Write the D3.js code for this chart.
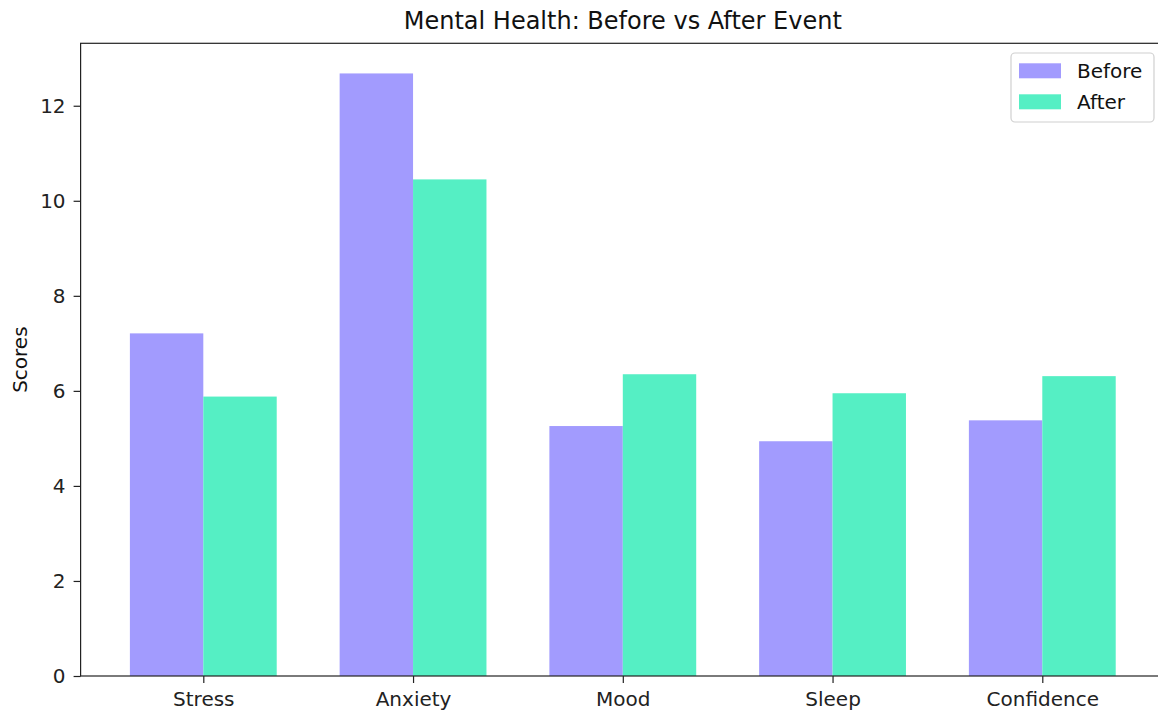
<!DOCTYPE html>
<html>
<head>
<meta charset="utf-8">
<script src="https://cdn.jsdelivr.net/npm/d3@7"></script>
<style>
  html, body { margin: 0; padding: 0; background: #fff; }
  svg { display: block; font-family: "DejaVu Sans", sans-serif; }
</style>
</head>
<body>
<svg id="chart" width="1158" height="711"></svg>
<script>
const categories = ["Stress", "Anxiety", "Mood", "Sleep", "Confidence"];
const seriesNames = ["Before", "After"];
const beforeValues = [7.21, 12.68, 5.26, 4.94, 5.38];
const afterValues = [5.88, 10.45, 6.35, 5.95, 6.31];
const yTicks = [0, 2, 4, 6, 8, 10, 12];
const colors = ["#a29bfe", "#55efc4"];
const title = "Mental Health: Before vs After Event";
const yLabel = "Scores";

(function () {
const svg = d3.select("#chart");
const pLeft = 80.6, pRight = 1165, pTop = 43.3, pBottom = 676;
const barW = 0.35;
const fs = 20;

const x = d3.scaleLinear().domain([-0.585, 4.585]).range([pLeft, pRight]);
const ymax = d3.max(beforeValues.concat(afterValues)) * 1.05;
const y = d3.scaleLinear().domain([0, ymax]).range([pBottom, pTop]);

const series = [beforeValues, afterValues];
series.forEach((vals, si) => {
  svg.append("g").selectAll("rect").data(vals).enter().append("rect")
    .attr("x", (d, i) => x(i + (si === 0 ? -barW : 0)))
    .attr("width", x(barW) - x(0))
    .attr("y", d => y(d))
    .attr("height", d => y(0) - y(d))
    .attr("fill", colors[si]);
});

const xAxis = d3.axisBottom(x).tickValues(d3.range(categories.length))
  .tickFormat(i => categories[i]).tickSizeOuter(0).tickSize(7).tickPadding(5);
const gx = svg.append("g").attr("transform", `translate(0,${pBottom})`).call(xAxis);
const yAxis = d3.axisLeft(y).tickValues(yTicks).tickSizeOuter(0).tickSize(7).tickPadding(8);
const gy = svg.append("g").attr("transform", `translate(${pLeft},0)`).call(yAxis);
[gx, gy].forEach(g => {
  g.selectAll("text").attr("font-family", "DejaVu Sans").attr("font-size", fs).attr("fill", "#222");
  g.selectAll("line").attr("stroke", "#222").attr("stroke-width", 1.2);
  g.select(".domain").remove();
});
gx.selectAll("text").attr("dy", "0.9em");

svg.append("rect").attr("x", pLeft).attr("y", pTop).attr("width", pRight - pLeft).attr("height", pBottom - pTop)
  .attr("fill", "none").attr("stroke", "#222").attr("stroke-width", 1.2);

svg.append("text").attr("x", (pLeft + pRight) / 2).attr("y", 29).attr("text-anchor", "middle")
  .attr("font-size", 24).attr("fill", "#111").text(title);

svg.append("text").attr("transform", `translate(26.5,${(pTop + pBottom) / 2}) rotate(-90)`)
  .attr("text-anchor", "middle").attr("font-size", fs).attr("fill", "#111").text(yLabel);

const lg = svg.append("g");
lg.append("rect").attr("x", 1011).attr("y", 53).attr("width", 143).attr("height", 69).attr("rx", 4)
  .attr("fill", "#fff").attr("fill-opacity", 0.8).attr("stroke", "#d0d0d0").attr("stroke-width", 1.2);
seriesNames.forEach((n, i) => {
  lg.append("rect").attr("x", 1019).attr("y", 63.3 + i * 31).attr("width", 42).attr("height", 15).attr("fill", colors[i]);
  lg.append("text").attr("x", 1077).attr("y", 71 + i * 31).attr("dy", "0.35em")
    .attr("font-size", fs).attr("fill", "#111").text(n);
});
})();
</script>
</body>
</html>
